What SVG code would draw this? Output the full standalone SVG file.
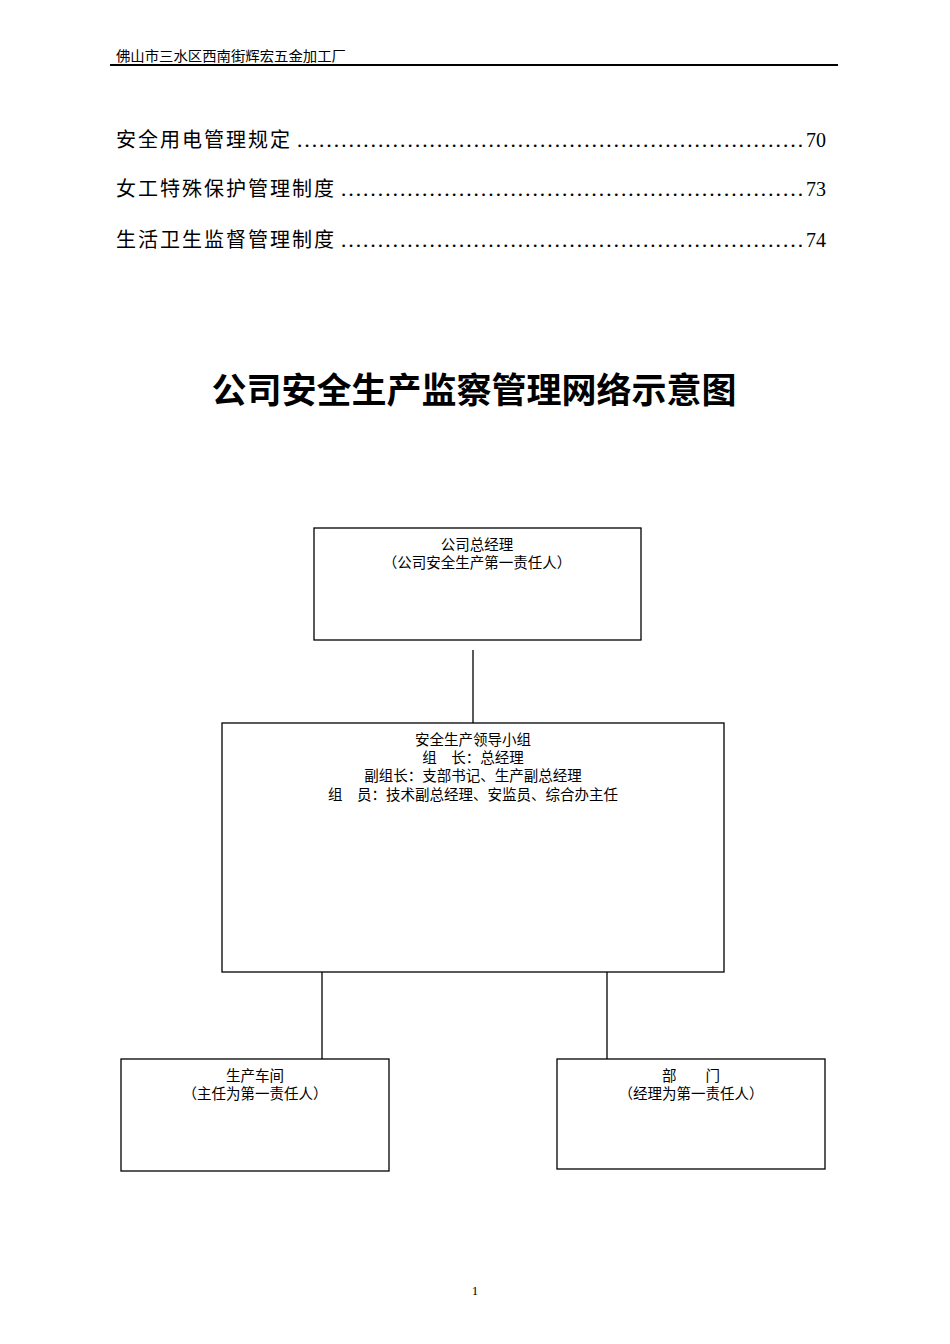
<svg xmlns="http://www.w3.org/2000/svg" width="950" height="1344" viewBox="0 0 950 1344">
<style>
text{font-family:"Liberation Serif","Noto Sans CJK SC",serif;fill:#000}
.h{font-size:14px}
.toc{font-size:20px;letter-spacing:2px}
.num{font-size:20px}
.b{font-size:14.5px;text-anchor:middle}
.box{fill:#fff;stroke:#000;stroke-width:1.3}
.c line{stroke:#000;stroke-width:1.3}
</style>
<rect width="950" height="1344" fill="#fff"/>
<text class="h" x="116" y="61" textLength="230" lengthAdjust="spacingAndGlyphs">佛山市三水区西南街辉宏五金加工厂</text>
<line x1="110" y1="65" x2="838" y2="65" stroke="#000" stroke-width="2"/>
<text class="toc" x="116" y="147">安全用电管理规定</text>
<text class="num" x="296" y="147" textLength="508" lengthAdjust="spacingAndGlyphs">……………………………………………………………</text>
<text class="num" x="806" y="147">70</text>
<text class="toc" x="116" y="196">女工特殊保护管理制度</text>
<text class="num" x="340" y="196" textLength="464" lengthAdjust="spacingAndGlyphs">………………………………………………………</text>
<text class="num" x="806" y="196">73</text>
<text class="toc" x="116" y="247">生活卫生监督管理制度</text>
<text class="num" x="340" y="247" textLength="464" lengthAdjust="spacingAndGlyphs">………………………………………………………</text>
<text class="num" x="806" y="247">74</text>
<text x="474" y="403" font-size="35" font-weight="bold" text-anchor="middle" textLength="525" lengthAdjust="spacingAndGlyphs">公司安全生产监察管理网络示意图</text>
<g class="c" id="connectors">
<line x1="473" y1="650" x2="473" y2="723"/>
<line x1="322" y1="972" x2="322" y2="1059"/>
<line x1="607" y1="972" x2="607" y2="1059"/>
</g>
<g id="n1"><rect class="box" x="314" y="528" width="327" height="112"/>
<text class="b" x="477" y="550">公司总经理</text><text class="b" x="477" y="568">（公司安全生产第一责任人）</text></g>
<g id="n2"><rect class="box" x="222" y="723" width="502" height="249"/>
<text class="b" x="473" y="745">安全生产领导小组</text>
<text class="b" x="473" y="763">组　长：总经理</text>
<text class="b" x="473" y="781">副组长：支部书记、生产副总经理</text>
<text class="b" x="473" y="800">组　员：技术副总经理、安监员、综合办主任</text></g>
<g id="n3"><rect class="box" x="121" y="1059" width="268" height="112"/>
<text class="b" x="255" y="1081">生产车间</text><text class="b" x="255" y="1099">（主任为第一责任人）</text></g>
<g id="n4"><rect class="box" x="557" y="1059" width="268" height="110"/>
<text class="b" x="691" y="1081">部　　门</text><text class="b" x="691" y="1099">（经理为第一责任人）</text></g>
<text x="475" y="1295" font-size="13" text-anchor="middle">1</text>
</svg>
